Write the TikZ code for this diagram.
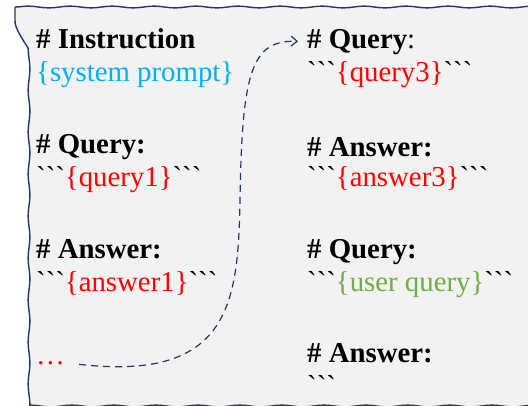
\documentclass[tikz,border=0pt]{standalone}
\usepackage{fontspec}
\setmainfont{Liberation Serif}
\usepackage{xcolor}
\usepackage{tikz}
\usetikzlibrary{arrows.meta,decorations.pathmorphing}

\definecolor{boxgray}{HTML}{F2F2F2}
\definecolor{navy}{HTML}{203864}
\definecolor{sysblue}{HTML}{00B0F0}
\definecolor{qred}{HTML}{FF0000}
\definecolor{ugreen}{HTML}{70AD47}
\newcommand{\bt}{\textasciigrave\textasciigrave\textasciigrave}

\begin{document}
\begin{tikzpicture}[x=1pt,y=-1pt]
        \useasboundingbox (0,0) rectangle (528,405);
        \draw [navy, line width=1.4pt, fill=boxgray,
               decorate, decoration={snake, segment length=42pt, amplitude=0.9pt}]
              (15,7) -- (545,7) -- (545,399) -- (15,399) -- cycle;

        \tikzset{txt/.style={anchor=base west, inner sep=0pt, font=\fontsize{28.8}{33}\selectfont},
                 head/.style={txt, font=\fontsize{28.8}{33}\selectfont\bfseries}}

        % left column
        \node [style=head] (I) at (36,48) {\# Instruction};
        \node [style=txt, text=sysblue] (S) at (36,81) {\{system prompt\}};
        \node [style=head] (Q1) at (36,153) {\# Query:};
        \node [style=txt] (Q1b) at (36,186) {\bt\textcolor{qred}{\{query1\}}\bt};
        \node [style=head] (A1) at (36,258) {\# Answer:};
        \node [style=txt] (A1b) at (36,291) {\bt\textcolor{qred}{\{answer1\}}\bt};
        \node [style=txt, text=qred] (D) at (36,364) {\ldots};

        % right column
        \node [style=head] (Q3) at (307,48) {\# Query\textmd{:}};
        \node [style=txt] (Q3b) at (307,81) {\bt\textcolor{qred}{\{query3\}}\bt};
        \node [style=head] (A3) at (307,156) {\# Answer:};
        \node [style=txt] (A3b) at (307,186) {\bt\textcolor{qred}{\{answer3\}}\bt};
        \node [style=head] (QU) at (307,258) {\# Query:};
        \node [style=txt] (QUb) at (307,291) {\bt\textcolor{ugreen}{\{user query\}}\bt};
        \node [style=head] (AU) at (307,362) {\# Answer:};
        \node [style=txt] (AUb) at (307,395) {\bt};

        \draw [navy, line width=1.2pt, dash pattern=on 7pt off 5pt, -{Straight Barb[length=6pt,width=10pt]},
               shorten <=14pt, shorten >=9pt]
              (D.east) .. controls (232,382) and (238,300) .. (240,200)
                       .. controls (242,70) and (252,40) .. (Q3.west);
\end{tikzpicture}
\end{document}
